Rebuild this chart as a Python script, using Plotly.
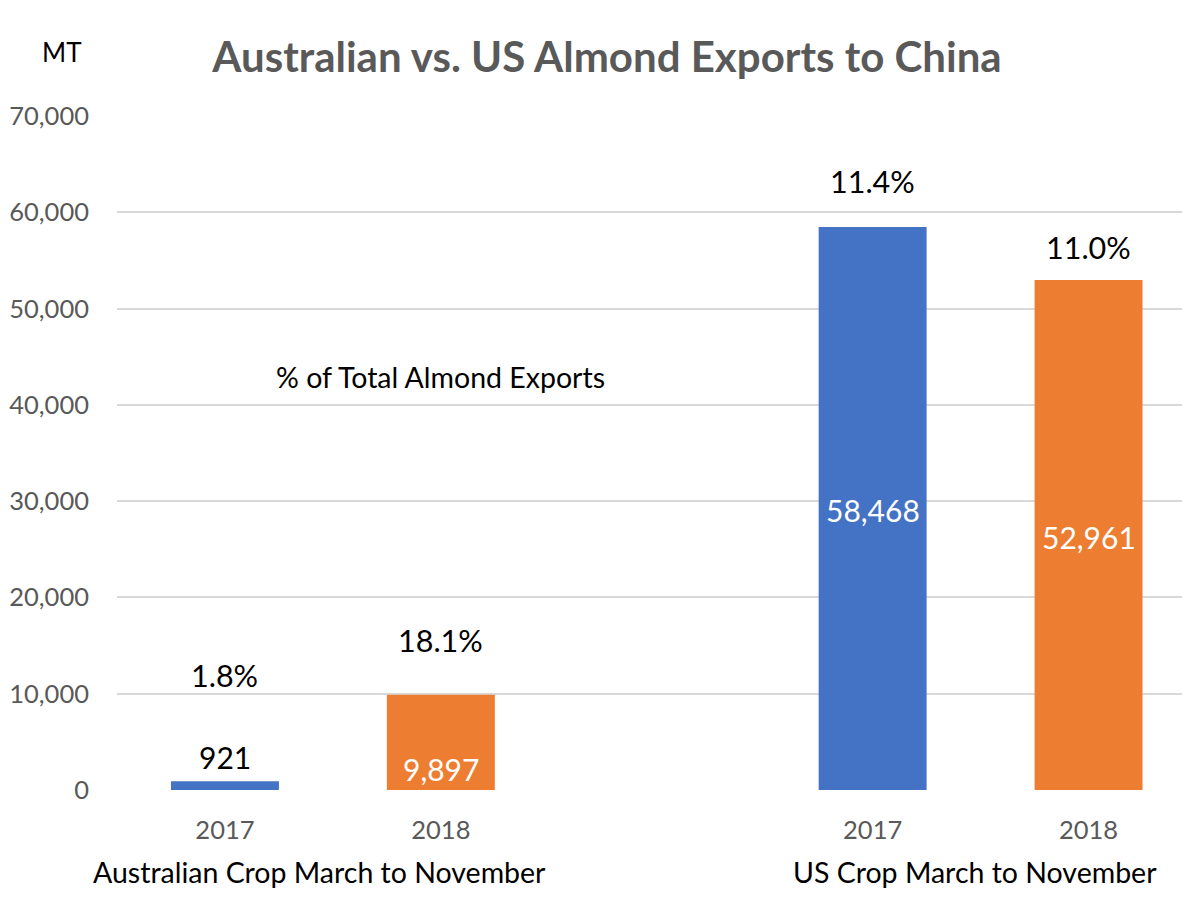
import plotly.graph_objects as go

# Data
groups = ["Australian Crop March to November", "US Crop March to November"]
years = ["2017", "2018", "2017", "2018"]
group_of_bar = [0, 0, 1, 1]
exports_mt = [921, 9897, 58468, 52961]
share_pct = ["1.8%", "18.1%", "11.4%", "11.0%"]
bar_colors = ["#4472C4", "#ED7D31", "#4472C4", "#ED7D31"]
y_ticks = [0, 10000, 20000, 30000, 40000, 50000, 60000, 70000]

# slot positions (empty slot between groups)
xpos = [0, 1, 3, 4]

FONT = "Lato"
W, H = 1182, 896          # page has an 8px body margin
L, T, B = 109, 108, 114
PW, PH = W - L, H - T - B

fig = go.Figure()
fig.add_trace(go.Bar(
    x=xpos, y=exports_mt, width=0.5,
    marker=dict(color=bar_colors, line=dict(width=0)),
    hoverinfo="skip", showlegend=False,
))

# value labels (placement styling)
val_label_y = [3400, 2200, exports_mt[2] * 0.497, exports_mt[3] * 0.496]
val_label_col = ["#000000", "#FFFFFF", "#FFFFFF", "#FFFFFF"]
for x, v, yy, c in zip(xpos, exports_mt, val_label_y, val_label_col):
    fig.add_annotation(x=x, y=yy, xref="x", yref="y", text=f"{v:,}", showarrow=False,
                       font=dict(family=FONT, size=30, color=c))
# percent labels
pct_y = [11950, 15600, 63250, 56400]
for x, p, yy in zip(xpos, share_pct, pct_y):
    fig.add_annotation(x=x, y=yy, xref="x", yref="y", text=p, showarrow=False,
                       font=dict(family=FONT, size=30.5, color="#000000"))

fig.add_annotation(x=1, y=42900, xref="x", yref="y", text="% of Total Almond Exports",
                   showarrow=False, font=dict(family=FONT, size=28.5, color="#000000"))

# group labels
group_xshift = [-13, -6]
for gi, g in enumerate(groups):
    xs = [x for x, gb in zip(xpos, group_of_bar) if gb == gi]
    fig.add_annotation(x=sum(xs) / len(xs), y=-(872 - 790) / PH, xref="x", yref="paper",
                       text=g, showarrow=False, yanchor="middle", xshift=group_xshift[gi],
                       font=dict(family=FONT, size=28.5, color="#000000"))

# MT unit label
fig.add_annotation(x=(62 - 8 - L) / PW, y=(782 - (52 - 8)) / PH, xref="paper", yref="paper",
                   text="MT", showarrow=False, xanchor="center", yanchor="middle",
                   font=dict(family=FONT, size=26, color="#000000"))

fig.update_layout(
    width=W, height=H,
    paper_bgcolor="#FFFFFF", plot_bgcolor="#FFFFFF",
    margin=dict(l=L, r=0, t=T, b=B),
    title=dict(text="<b>Australian vs. US Almond Exports to China</b>",
               x=(607 - 8) / W, xanchor="center", y=1 - (57 - 8) / H, yanchor="middle",
               font=dict(family=FONT, size=42, color="#595959")),
    xaxis=dict(range=[-0.5, 4.47], tickvals=xpos, ticktext=years, showgrid=False,
               zeroline=False, showline=False, ticks="", ticklabelstandoff=22,
               tickfont=dict(family=FONT, size=25.5, color="#595959")),
    yaxis=dict(range=[0, 70000], tickvals=y_ticks, tickformat=",d", showgrid=True,
               gridcolor="#D9D9D9", gridwidth=1.5, zeroline=False, showline=False,
               ticks="", ticklabelstandoff=27,
               tickfont=dict(family=FONT, size=25.5, color="#595959")),
)

fig.write_html("out.html")
